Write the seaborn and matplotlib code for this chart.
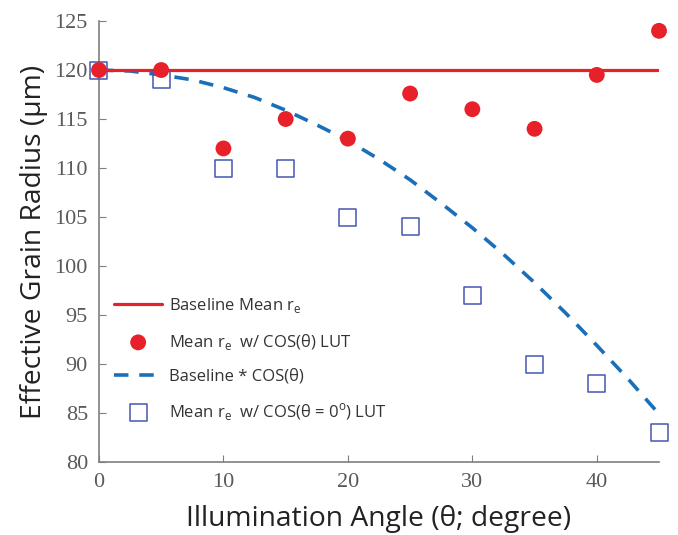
import numpy as np
import pandas as pd
import matplotlib
matplotlib.use("Agg")
import matplotlib.pyplot as plt
import seaborn as sns

# values
angles = [0, 5, 10, 15, 20, 25, 30, 35, 40, 45]
baseline_mean = [120] * len(angles)
mean_cos_lut = [120, 120, 112, 115, 113, 117.6, 116, 114, 119.5, 124]
mean_zero_lut = [120, 119, 110, 110, 105, 104, 97, 90, 88, 83]

curve_angles = [0, 2.5, 5, 7.5, 10, 12.5, 15, 17.5, 20, 22.5,
                25, 27.5, 30, 32.5, 35, 37.5, 40, 42.5, 45]
curve_vals = [120, 119.9, 119.5, 119.0, 118.2, 117.2, 115.9, 114.4, 112.8, 110.9,
              108.8, 106.4, 103.9, 101.2, 98.3, 95.2, 91.9, 88.5, 84.9]

RED = "#E8202A"
BLUE_DASH = "#1A6FB8"
BLUE_SQ = "#4656B2"
GREY = "#7F7F7F"

sns.set_style("ticks")
plt.rcParams["font.family"] = ["Open Sans", "DejaVu Sans"]

fig = plt.figure(figsize=(6.78, 5.35), dpi=100)
ax = fig.add_axes([0.146, 0.1364, 0.826, 0.8243])

df = pd.DataFrame({"angle": angles, "base": baseline_mean,
                   "cos_lut": mean_cos_lut, "zero_lut": mean_zero_lut})
curve = pd.DataFrame({"angle": curve_angles, "val": curve_vals})

sns.lineplot(data=df, x="angle", y="base", ax=ax, color=RED, lw=2.3,
             label=r"Baseline Mean r$_\mathregular{e}$", zorder=3)
sns.lineplot(data=curve, x="angle", y="val", ax=ax, color=BLUE_DASH, lw=2.6,
             dashes=False, label="Baseline * COS(θ)", zorder=2)
ax.lines[-1].set_linestyle((0, (4, 3)))
sns.scatterplot(data=df, x="angle", y="cos_lut", ax=ax, color=RED, s=130,
                edgecolor="none", label=r"Mean r$_\mathregular{e}$  w/ COS(θ) LUT",
                zorder=5, clip_on=False)
sns.scatterplot(data=df, x="angle", y="zero_lut", ax=ax, marker="s", s=150,
                facecolor="none", edgecolor=BLUE_SQ, linewidth=1.1,
                label=r"Mean r$_\mathregular{e}$  w/ COS(θ = 0$^\mathregular{o}$) LUT",
                zorder=4, clip_on=False)

ax.set_xlim(0, 45)
ax.set_ylim(80, 125)
ax.set_xticks([0, 10, 20, 30, 40])
ax.set_yticks(np.arange(80, 126, 5))
for sp in ["top", "right"]:
    ax.spines[sp].set_visible(False)
for sp in ["left", "bottom"]:
    ax.spines[sp].set_color(GREY)
    ax.spines[sp].set_linewidth(1.2)
ax.tick_params(direction="in", length=5, color=GREY, labelcolor="#5a5a5a", pad=8)
for lab in ax.get_xticklabels() + ax.get_yticklabels():
    lab.set_family("Liberation Serif")
    lab.set_fontsize(16)

ax.set_xlabel("Illumination Angle (θ; degree)", fontsize=20.3, color="#222222", labelpad=9)
ax.set_ylabel("Effective Grain Radius (µm)", fontsize=20.3, color="#222222", labelpad=5)

h, l = ax.get_legend_handles_labels()
order = [0, 2, 1, 3]
ax.legend([h[i] for i in order], [l[i] for i in order], loc="lower left",
          bbox_to_anchor=(0.0, 0.055), frameon=False, fontsize=12,
          handlelength=2.9, labelspacing=1.0, handletextpad=0.4, labelcolor="#333333")

fig.savefig("out.png", dpi=100)
